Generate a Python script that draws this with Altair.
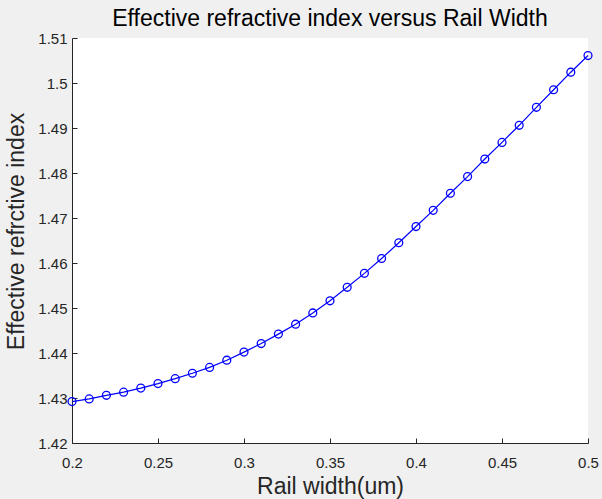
import altair as alt
import pandas as pd

# Rail width (um) and the effective refractive index computed at each width
rail_width = [0.20, 0.21, 0.22, 0.23, 0.24, 0.25, 0.26, 0.27, 0.28, 0.29,
              0.30, 0.31, 0.32, 0.33, 0.34, 0.35, 0.36, 0.37, 0.38, 0.39,
              0.40, 0.41, 0.42, 0.43, 0.44, 0.45, 0.46, 0.47, 0.48, 0.49, 0.50]
n_eff = [1.4292, 1.4298, 1.4306, 1.4313, 1.4322, 1.4332, 1.4343, 1.4355, 1.4368, 1.4384,
         1.4402, 1.4421, 1.4442, 1.4464, 1.4489, 1.4516, 1.4546, 1.4577, 1.4610, 1.4645,
         1.4681, 1.4717, 1.4755, 1.4792, 1.4831, 1.4868, 1.4906, 1.4946, 1.4985, 1.5024, 1.5061]

x_ticks = [0.2, 0.25, 0.3, 0.35, 0.4, 0.45, 0.5]
y_ticks = [1.42, 1.43, 1.44, 1.45, 1.46, 1.47, 1.48, 1.49, 1.50, 1.51]

df = pd.DataFrame({"w": rail_width, "n": n_eff})

W, H = 516, 405
FONT = "Liberation Sans"
INK = "#262626"
BLUE = "#0000ff"

x_scale = alt.Scale(domain=[0.2, 0.5], nice=False, zero=False)
y_scale = alt.Scale(domain=[1.42, 1.51], nice=False, zero=False)

# Main axes: domain line, labels and titles (ticks drawn separately, pointing inward)
x_main = alt.X("w:Q", scale=x_scale, title="Rail width(um)",
               axis=alt.Axis(values=x_ticks, format=".2~f", grid=False, ticks=False,
                             tickSize=0, domainColor=INK, domainWidth=1,
                             labelFont=FONT, labelFontSize=15, labelColor=INK,
                             labelPadding=12, labelFlush=False,
                             titleFont=FONT, titleFontSize=23, titleFontWeight="normal",
                             titleColor=INK, titleBaseline="alphabetic",
                             titleY=50, titleX=W / 2))
y_main = alt.Y("n:Q", scale=y_scale, title="Effective refrctive index",
               axis=alt.Axis(values=y_ticks, format=".2~f", grid=False, ticks=False,
                             tickSize=0, domainColor=INK, domainWidth=1,
                             labelFont=FONT, labelFontSize=15, labelColor=INK,
                             labelPadding=5, labelFlush=False,
                             titleFont=FONT, titleFontSize=23, titleFontWeight="normal",
                             titleColor=INK, titleBaseline="alphabetic",
                             titleAngle=270, titleX=-49, titleY=193))

# Inward-pointing ticks: mirror axes pulled across the plot area
x_ticks_in = alt.X("w:Q", scale=x_scale, title=None,
                   axis=alt.Axis(orient="top", offset=-H, values=x_ticks, labels=False,
                                 domain=False, grid=False, ticks=True, tickSize=5,
                                 tickColor=INK, tickWidth=1))
y_ticks_in = alt.Y("n:Q", scale=y_scale, title=None,
                   axis=alt.Axis(orient="right", offset=-W, values=y_ticks, labels=False,
                                 domain=False, grid=False, ticks=True, tickSize=5,
                                 tickColor=INK, tickWidth=1))

line = alt.Chart(df).mark_line(color=BLUE, strokeWidth=1.2).encode(x=x_main, y=y_main)

points = alt.Chart(df).mark_point(shape="circle", size=62, filled=False,
                                  color=BLUE, strokeWidth=1.3, opacity=1).encode(
    x=x_ticks_in, y=y_ticks_in)

chart = (
    alt.layer(line, points)
    .resolve_axis(x="independent", y="independent")
    .properties(
        width=W, height=H,
        title=alt.TitleParams("Effective refractive index versus Rail Width",
                              font=FONT, fontSize=23, fontWeight="normal", color="#000000",
                              anchor="middle", frame="group", baseline="alphabetic",
                              offset=10, dy=28),
        autosize=alt.AutoSizeParams(type="none"),
        padding={"left": 72, "top": 38, "right": 14, "bottom": 56},
        background="#f0f0f0",
    )
    .configure_view(fill="white", stroke=None)
)

chart.save("out.html", embed_options={"renderer": "svg", "actions": False})
